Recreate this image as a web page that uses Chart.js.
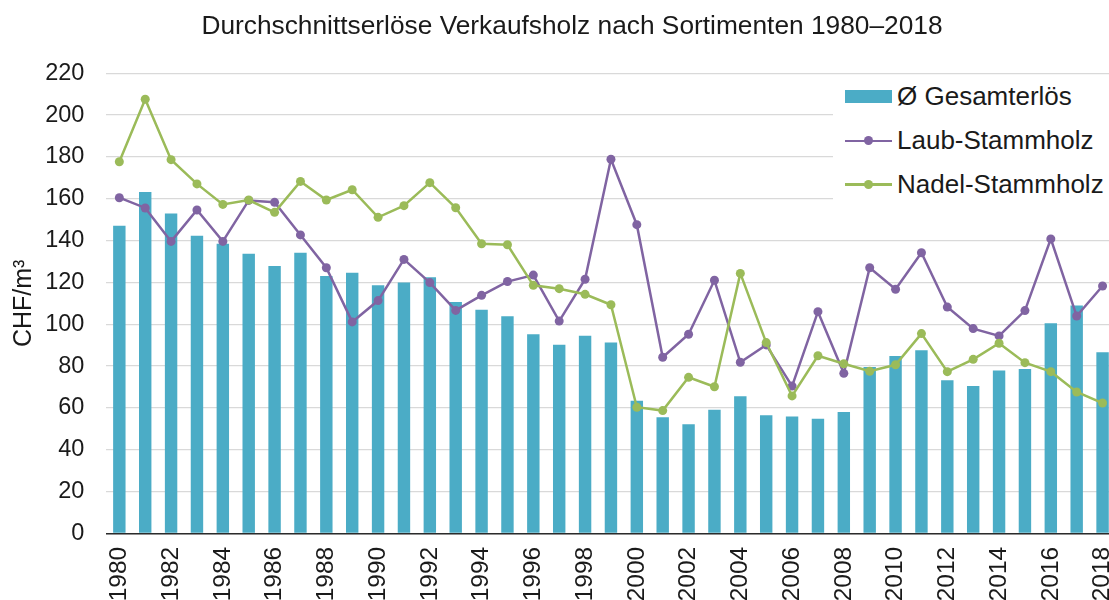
<!DOCTYPE html>
<html>
<head>
<meta charset="utf-8">
<script src="https://cdn.jsdelivr.net/npm/chart.js@4/dist/chart.umd.min.js"></script>
<style>
  html, body { margin: 0; padding: 0; background: #fff; overflow: hidden; width: 1109px; height: 600px; }
  #wrap { position: relative; width: 1109px; height: 600px; overflow: hidden; }
  canvas { position: absolute; left: 0; top: 0; }
  #title { position: absolute; left: 0; width: 1144px; top: 10px; text-align: center;
           font: 26.3px "Liberation Sans", Arial, sans-serif; line-height: 30px; color: #1a1a1a; white-space: nowrap; }
  #legend { position: absolute; left: 833px; top: 76px; width: 290px; height: 138px; background: #fff; }
  .row { position: absolute; left: 0; height: 30px; width: 290px; }
  .txt { position: absolute; left: 64px; top: 0; font: 26px "Liberation Sans", Arial, sans-serif; line-height: 30px; color: #1a1a1a; white-space: nowrap; }
  .box { position: absolute; left: 12px; width: 47px; height: 13px; }
  .ln { position: absolute; left: 12px; width: 47px; height: 2.5px; }
  .dot { position: absolute; left: 31px; width: 9px; height: 9px; border-radius: 50%; }
</style>
</head>
<body>
<div id="wrap">
  <canvas id="c" width="1120" height="600"></canvas>
  <div id="title">Durchschnittserlöse Verkaufsholz nach Sortimenten 1980–2018</div>
  <div id="legend"></div>
</div>
<script>
const years = ['1980','1981','1982','1983','1984','1985','1986','1987','1988','1989',
  '1990','1991','1992','1993','1994','1995','1996','1997','1998','1999',
  '2000','2001','2002','2003','2004','2005','2006','2007','2008','2009',
  '2010','2011','2012','2013','2014','2015','2016','2017','2018'];
const gesamt = [147.1,163.2,153.0,142.3,138.5,133.7,127.8,134.2,123.1,124.6,
  118.6,119.9,122.4,110.6,106.9,103.8,95.2,90.2,94.5,91.3,
  63.4,55.5,52.1,59.1,65.5,56.4,55.9,54.8,58.0,79.5,
  84.8,87.5,73.2,70.4,77.9,78.6,100.4,109.0,86.6];
const laub = [160.5,155.6,139.6,154.6,139.6,159.2,158.3,142.7,127.0,101.1,
  111.3,131.0,119.9,106.6,113.8,120.4,123.5,101.5,121.5,178.9,
  147.6,84.2,95.2,121.0,81.8,90.1,70.4,106.0,76.5,127.0,
  116.7,134.2,108.2,97.9,94.4,106.5,140.8,103.9,118.3];
const nadel = [177.7,207.6,178.7,167.1,157.3,159.4,153.5,168.3,159.4,164.3,
  151.1,156.7,167.7,155.7,138.5,138.0,118.6,117.0,114.3,109.3,
  60.3,58.7,74.6,70.1,124.3,91.2,65.7,84.9,81.1,77.5,
  80.6,95.5,77.3,83.2,90.9,81.6,77.3,67.6,62.3];
const seriesNames = ['Ø Gesamterlös', 'Laub-Stammholz', 'Nadel-Stammholz'];
const yTicks = { min: 0, max: 220, step: 20 };

const cBar = '#4BACC6', cLaub = '#8064A2', cNadel = '#9BBB59';
const fontFam = '"Liberation Sans", Arial, sans-serif';

new Chart(document.getElementById('c'), {
  data: {
    labels: years,
    datasets: [
      { type: 'line', label: seriesNames[2], data: nadel, borderColor: cNadel, backgroundColor: cNadel,
        borderWidth: 2.5, pointRadius: 4.5, pointBackgroundColor: cNadel, pointBorderWidth: 0, tension: 0, order: 0 },
      { type: 'line', label: seriesNames[1], data: laub, borderColor: cLaub, backgroundColor: cLaub,
        borderWidth: 2.5, pointRadius: 4.5, pointBackgroundColor: cLaub, pointBorderWidth: 0, tension: 0, order: 1 },
      { type: 'bar', label: seriesNames[0], data: gesamt, backgroundColor: cBar, borderWidth: 0,
        categoryPercentage: 1.0, barPercentage: 0.48, order: 2 }
    ]
  },
  options: {
    responsive: false,
    animation: false,
    layout: { padding: { top: 73.3, left: 0, right: 0, bottom: 0 } },
    plugins: { legend: { display: false }, title: { display: false }, tooltip: { enabled: false } },
    scales: {
      x: {
        offset: true,
        grid: { display: false, drawTicks: false },
        border: { display: true, color: '#2b2b2b', width: 1.5 },
        ticks: {
          autoSkip: false, minRotation: 90, maxRotation: 90, padding: 13.5,
          color: '#1a1a1a', font: { family: fontFam, size: 24.5 },
          callback: function (v, i) { return i % 2 === 0 ? this.getLabelForValue(v) : ''; }
        },
        afterFit: function (s) { s.height = 66.7; s.paddingLeft = 0; s.paddingRight = 0; }
      },
      y: {
        min: yTicks.min, max: yTicks.max,
        grid: { color: '#d9d9d9', lineWidth: 1.3, drawTicks: false },
        border: { display: false },
        ticks: { stepSize: yTicks.step, padding: 22, color: '#1a1a1a', font: { family: fontFam, size: 23.5 } },
        title: { display: true, text: 'CHF/m³', color: '#1a1a1a', font: { family: fontFam, size: 25 }, padding: { top: 9, bottom: 0 } },
        afterFit: function (s) { s.width = 106.4; s.paddingTop = 0; s.paddingBottom = 0; }
      }
    }
  }
});

// HTML legend
const legend = document.getElementById('legend');
const rows = [
  { name: seriesNames[0], kind: 'bar', color: cBar, top: 5 },
  { name: seriesNames[1], kind: 'line', color: cLaub, top: 49.3 },
  { name: seriesNames[2], kind: 'line', color: cNadel, top: 92.7 }
];
rows.forEach(r => {
  const row = document.createElement('div');
  row.className = 'row';
  row.style.top = r.top + 'px';
  if (r.kind === 'bar') {
    const b = document.createElement('div'); b.className = 'box'; b.style.background = r.color; b.style.top = '9px';
    row.appendChild(b);
  } else {
    const l = document.createElement('div'); l.className = 'ln'; l.style.background = r.color; l.style.top = '14.5px';
    const d = document.createElement('div'); d.className = 'dot'; d.style.background = r.color; d.style.top = '11.2px';
    row.appendChild(l); row.appendChild(d);
  }
  const t = document.createElement('div'); t.className = 'txt'; t.textContent = r.name;
  row.appendChild(t);
  legend.appendChild(row);
});
</script>
</body>
</html>
